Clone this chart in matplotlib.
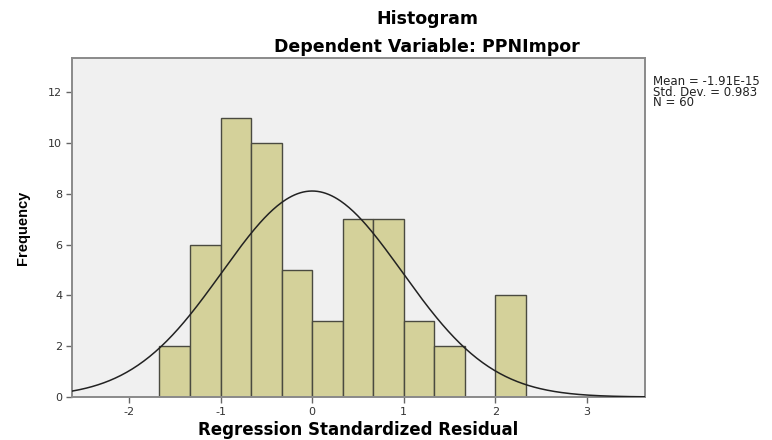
import numpy as np
import matplotlib
matplotlib.use("Agg")
import matplotlib.pyplot as plt

# histogram of regression standardized residuals
bin_edges = [-5/3, -4/3, -1, -2/3, -1/3, 0, 1/3, 2/3, 1, 4/3, 5/3, 2, 7/3]
counts = [2, 6, 11, 10, 5, 3, 7, 7, 3, 2, 0, 4]
mean = -1.91e-15
std = 0.983
n = 60
x_ticks = [-2, -1, 0, 1, 2, 3]
y_ticks = [0, 2, 4, 6, 8, 10, 12]

plt.rcParams['font.family'] = ['DejaVu Sans']
plt.rcParams['axes.unicode_minus'] = False

fig = plt.figure(figsize=(7.72, 4.4), dpi=100)
ax = fig.add_axes([0.0933, 0.0977, 0.742, 0.770])
ax.set_facecolor('#f0f0f0')

widths = np.diff(bin_edges)
ax.bar(bin_edges[:-1], counts, width=widths, align='edge',
       color='#d4d19a', edgecolor='#4a4a40', linewidth=1.0, zorder=2)

# normal curve scaled to the histogram
bw = widths[0]
xs = np.linspace(-2.62, 3.63, 400)
ys = n * bw / (std * np.sqrt(2 * np.pi)) * np.exp(-0.5 * ((xs - mean) / std) ** 2)
ax.plot(xs, ys, color='#222222', linewidth=1.1, zorder=3)

ax.set_xlim(-2.62, 3.63)
ax.set_ylim(0, 13.35)
ax.set_xticks(x_ticks)
ax.set_yticks(y_ticks)
ax.tick_params(direction='out', length=4, width=1, color='#666666',
               labelsize=8, labelcolor='#333333', pad=3)
for s in ax.spines.values():
    s.set_color('#8a8a8a')
    s.set_linewidth(1.4)

ax.set_xlabel('Regression Standardized Residual', fontsize=12,
              fontweight='bold', labelpad=3)
ax.set_ylabel('Frequency', family='Liberation Sans', fontsize=10.5,
              fontweight='bold', labelpad=13)

fig.text(427/772, 1 - 19/440, 'Histogram', ha='center', va='center',
         fontsize=12.5, fontweight='bold')
fig.text(427/772, 1 - 47/440, 'Dependent Variable: PPNImpor', ha='center',
         va='center', fontsize=12.5, fontweight='bold')

fig.text(653/772, 1 - 75/440,
         'Mean = -1.91E-15\nStd. Dev. = 0.983\nN = 60',
         ha='left', va='top', fontsize=8.5, linespacing=0.75, color='#222222')

fig.savefig('out.png', dpi=100)
